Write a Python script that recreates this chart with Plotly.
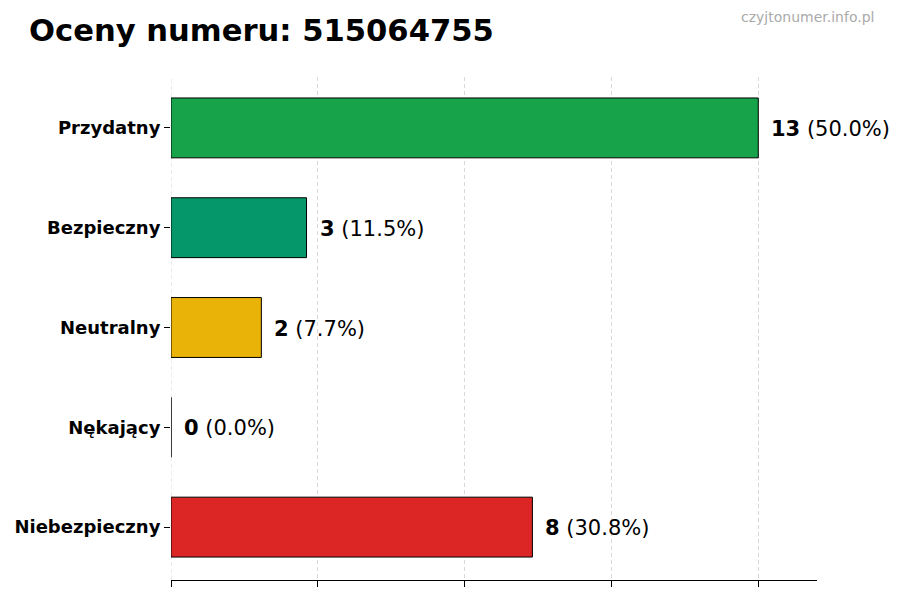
import plotly.graph_objects as go

categories = ["Przydatny", "Bezpieczny", "Neutralny", "Nękający", "Niebezpieczny"]
counts = [13, 3, 2, 0, 8]
colors = ["#16a34a", "#059669", "#eab308", "#f97316", "#dc2626"]
title_text = "Oceny numeru: 515064755"
watermark = "czyjtonumer.info.pl"

total = sum(counts)
xmax = max(counts)
tickvals = [xmax * i / 4 for i in range(5)]

FONT = "DejaVu Sans"
GRID = "#d8d8d8"
DASH = "4px,3px"

fig = go.Figure()
fig.add_trace(go.Bar(
    y=categories,
    x=counts,
    orientation="h",
    marker=dict(color=colors, line=dict(color="black", width=1)),
    width=0.6,
    hoverinfo="skip",
))

for c, v in zip(categories, counts):
    pct = 100.0 * v / total if total else 0
    fig.add_annotation(
        x=v, y=c, xref="x", yref="y",
        text=f"<b>{v}</b> ({pct:.1f}%)",
        showarrow=False, xanchor="left", yanchor="middle",
        xshift=11, yshift=-1, font=dict(family=FONT, size=21, color="black"),
    )

# gridline at x=0 (plotly omits the edge gridline)
fig.add_shape(type="line", xref="x", yref="paper", x0=tickvals[0], x1=tickvals[0],
              y0=0, y1=1, line=dict(color=GRID, width=1, dash=DASH), layer="below")

L, R, T, B = 171, 83, 77, 20
W, H = 900, 600
pw, ph = W - L - R, H - T - B

def px2paper(x, y):
    return (x - L) / pw, (H - B - y) / ph

tx, ty = px2paper(27, 30)
fig.add_annotation(
    x=tx, y=ty, xref="paper", yref="paper", text=f"<b>{title_text}</b>",
    showarrow=False, xanchor="left", yanchor="middle",
    font=dict(family=FONT, size=30.6, color="black"),
)
wx, wy = px2paper(876, 17)
fig.add_annotation(
    x=wx, y=wy, xref="paper", yref="paper", text=watermark,
    showarrow=False, xanchor="right", yanchor="middle",
    font=dict(family=FONT, size=14, color="#aaaaaa"),
)

fig.update_layout(
    width=W, height=H,
    margin=dict(l=L, r=R, t=T, b=B, pad=0),
    plot_bgcolor="white", paper_bgcolor="white",
    showlegend=False,
    font=dict(family=FONT, color="black"),
    xaxis=dict(
        range=[0, xmax * 1.1],
        tickvals=tickvals,
        showticklabels=False,
        ticks="outside", ticklen=6, tickcolor="black", tickwidth=1,
        showline=True, linecolor="black", linewidth=1,
        showgrid=True, gridcolor=GRID, griddash=DASH, gridwidth=1,
        zeroline=False,
    ),
    yaxis=dict(
        categoryorder="array", categoryarray=categories,
        range=[len(categories) - 1 + 0.53, -0.51],
        ticks="outside", ticklen=6, tickcolor="black",
        showline=False, showgrid=False, zeroline=False,
        tickfont=dict(family=FONT, size=18, color="black", weight="bold"),
    ),
)

fig.write_html("out.html")
